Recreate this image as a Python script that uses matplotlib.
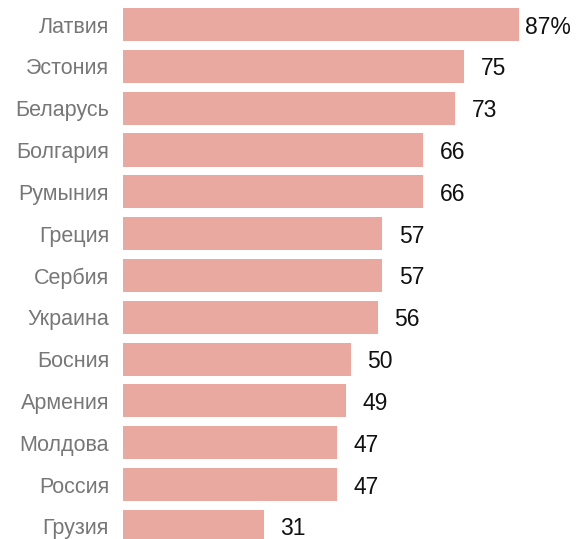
import matplotlib.pyplot as plt

countries = ['Латвия', 'Эстония', 'Беларусь', 'Болгария', 'Румыния', 'Греция',
             'Сербия', 'Украина', 'Босния', 'Армения', 'Молдова', 'Россия', 'Грузия']
values = [87, 75, 73, 66, 66, 57, 57, 56, 50, 49, 47, 47, 31]
labels = ['87%', '75', '73', '66', '66', '57', '57', '56', '50', '49', '47', '47', '31']

plt.rcParams['font.family'] = ['Liberation Sans', 'DejaVu Sans']

fig = plt.figure(figsize=(5.8, 5.39), dpi=100)
ax = fig.add_axes([123 / 580, 0, 1 - 123 / 580, 1])

y = list(range(len(countries)))
ax.barh(y, values, height=0.79, color='#EAA9A0')

for yi, v, lab in zip(y, values, labels):
    ax.annotate(lab, (v, yi), xytext=(21, 0), textcoords='offset points',
                ha='center', va='center_baseline', fontsize=16.5, color='#111111')

ax.set_xlim(0, 100.4)
ax.set_ylim(12.3, -0.586)
ax.set_yticks(y)
ax.set_yticklabels(countries, fontsize=15.5, color='#777777')
for t in ax.get_yticklabels():
    t.set_verticalalignment('center_baseline')
ax.tick_params(axis='y', length=0, pad=10)
ax.set_xticks([])
for s in ax.spines.values():
    s.set_visible(False)

fig.savefig('out.png', dpi=100)
